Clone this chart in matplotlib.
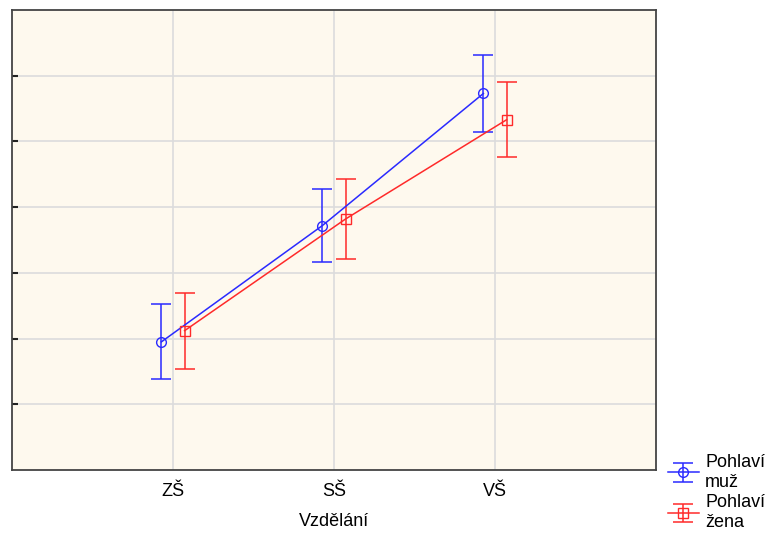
import numpy as np
import matplotlib
matplotlib.use("Agg")
from matplotlib import pyplot as plt

plt.rcParams['font.family'] = ['Liberation Sans', 'DejaVu Sans']

kategorie = ["ZŠ", "SŠ", "VŠ"]
muz_prumer = [1.95, 3.72, 5.73]
muz_chyba = [0.57, 0.55, 0.58]
zena_prumer = [2.12, 3.82, 5.33]
zena_chyba = [0.58, 0.61, 0.57]

fig = plt.figure(figsize=(7.83, 5.33), dpi=100)
ax = fig.add_axes([12 / 783, 63 / 533, 644 / 783, 460 / 533])
ax.set_facecolor("#fef9ee")

x = np.arange(len(kategorie))
posun = 0.072

ax.errorbar(x - posun, muz_prumer, yerr=muz_chyba, color="#2a2aff", lw=1.1,
            marker="o", ms=7, mfc="none", mec="#2a2aff", capsize=7,
            elinewidth=1.1, capthick=1.1, label="Pohlaví\nmuž", zorder=3)
ax.errorbar(x + posun, zena_prumer, yerr=zena_chyba, color="#ff2a2a", lw=1.1,
            marker="s", ms=7, mfc="none", mec="#ff2a2a", capsize=7,
            elinewidth=1.1, capthick=1.1, label="Pohlaví\nžena", zorder=3)

ax.set_xlim(-1, 3)
ax.set_ylim(0, 7)
ax.set_xticks(x)
ax.set_xticklabels(kategorie, fontsize=13)
ax.set_yticks(np.arange(1, 7))
ax.set_yticklabels([])
ax.grid(True, color="#dcdcdc", lw=1.2, zorder=0)
ax.set_axisbelow(True)
ax.tick_params(axis="x", length=0, pad=9)
ax.tick_params(axis="y", direction="in", length=4, width=1.5, color="#222222")
for s in ax.spines.values():
    s.set_color("#444444")
    s.set_linewidth(1.3)
ax.set_xlabel("Vzdělání", fontsize=13, labelpad=10)

ax.legend(loc="upper left", bbox_to_anchor=(668 / 783, 79 / 533),
          bbox_transform=fig.transFigure, frameon=False, fontsize=13,
          handlelength=1.7, handletextpad=0.35, labelspacing=0.2,
          borderaxespad=0, borderpad=0)

fig.savefig("out.png", dpi=100)
